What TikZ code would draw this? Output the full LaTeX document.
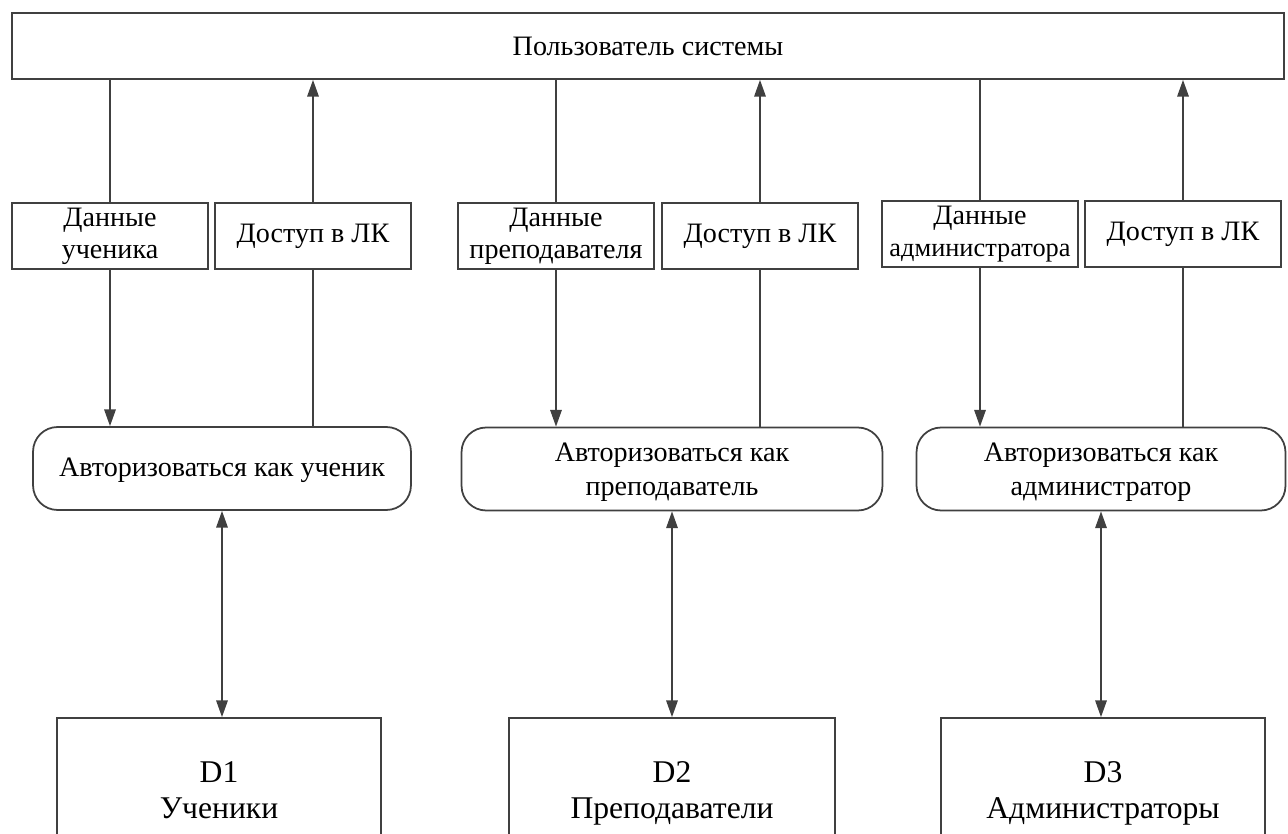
\documentclass[tikz,border=0pt]{standalone}
\usepackage{fontspec}
\setmainfont{Liberation Serif}
\usetikzlibrary{arrows.meta}

% taller strut for the first line of a two-line label
\newcommand{\firstline}[1]{\rule{0pt}{#1}}

\tikzset{
  box/.style={draw=black!75, line width=1pt, fill=white, inner sep=2pt,
    align=center, font=\fontsize{16}{19}\selectfont},
  databox/.style={box, inner ysep=0pt, minimum width=3.93cm, minimum height=1.32cm,
    font=\fontsize{16}{18.5}\selectfont},
  procbox/.style={box, rounded corners=14pt, minimum height=1.66cm},
  storebox/.style={box, minimum height=2.88cm, font=\fontsize{18}{20.5}\selectfont},
  link/.style={draw=black!75, line width=1pt},
  flow/.style={link, -{Triangle[length=9.5pt, width=6.5pt]}},
  flowboth/.style={link, {Triangle[length=9.5pt, width=6.5pt]}-{Triangle[length=9.5pt, width=6.5pt]}}
}

\begin{document}
\begin{tikzpicture}[x=0.02cm, y=-0.02cm]
    \useasboundingbox (0,0) rectangle (1288,834);

    % System user (external entity)
    \node[box, minimum width=25.44cm, minimum height=1.32cm] (user) at (648, 46) {Пользователь системы};

    % Data flow labels
    \node[databox] (data1) at (110, 236) {Данные\strut\\ученика\strut};
    \node[databox] (lk1) at (313, 236) {Доступ в ЛК};
    \node[databox] (data2) at (556, 236) {Данные\strut\\преподавателя\strut};
    \node[databox] (lk2) at (760, 236) {Доступ в ЛК};
    \node[databox] (data3) at (980, 234) {Данные\strut\\{\fontsize{15}{18.5}\selectfont администратора}\strut};
    \node[databox] (lk3) at (1183, 234) {Доступ в ЛК};

    % Processes
    \node[procbox, minimum width=7.56cm] (auth1) at (222, 468.5) {\firstline{15pt}Авторизоваться как ученик\strut};
    \node[procbox, minimum width=8.42cm] (auth2) at (672, 469) {\firstline{16.3pt}Авторизоваться как\\преподаватель\strut};
    \node[procbox, minimum width=7.38cm] (auth3) at (1101, 469) {\firstline{16.3pt}Авторизоваться как\\администратор\strut};

    % Data stores (cut by the lower edge)
    \node[storebox, minimum width=6.48cm] (store1) at (219, 790) {\firstline{18.4pt}D1\\Ученики\strut};
    \node[storebox, minimum width=6.52cm] (store2) at (672, 790) {\firstline{18.4pt}D2\\Преподаватели\strut};
    \node[storebox, minimum width=6.48cm] (store3) at (1103, 790) {\firstline{18.4pt}D3\\Администраторы\strut};

    % Student column
    \draw[link] (user.south -| data1.north) -- (data1.north);
    \draw[flow] (data1.south) -- (data1.south |- auth1.north);
    \draw[link] (auth1.north -| lk1.south) -- (lk1.south);
    \draw[flow] (lk1.north) -- (lk1.north |- user.south);
    \draw[flowboth] (auth1.south) -- (auth1.south |- store1.north);

    % Teacher column
    \draw[link] (user.south -| data2.north) -- (data2.north);
    \draw[flow] (data2.south) -- (data2.south |- auth2.north);
    \draw[link] (auth2.north -| lk2.south) -- (lk2.south);
    \draw[flow] (lk2.north) -- (lk2.north |- user.south);
    \draw[flowboth] (auth2.south) -- (auth2.south |- store2.north);

    % Administrator column
    \draw[link] (user.south -| data3.north) -- (data3.north);
    \draw[flow] (data3.south) -- (data3.south |- auth3.north);
    \draw[link] (auth3.north -| lk3.south) -- (lk3.south);
    \draw[flow] (lk3.north) -- (lk3.north |- user.south);
    \draw[flowboth] (auth3.south) -- (auth3.south |- store3.north);
\end{tikzpicture}
\end{document}
